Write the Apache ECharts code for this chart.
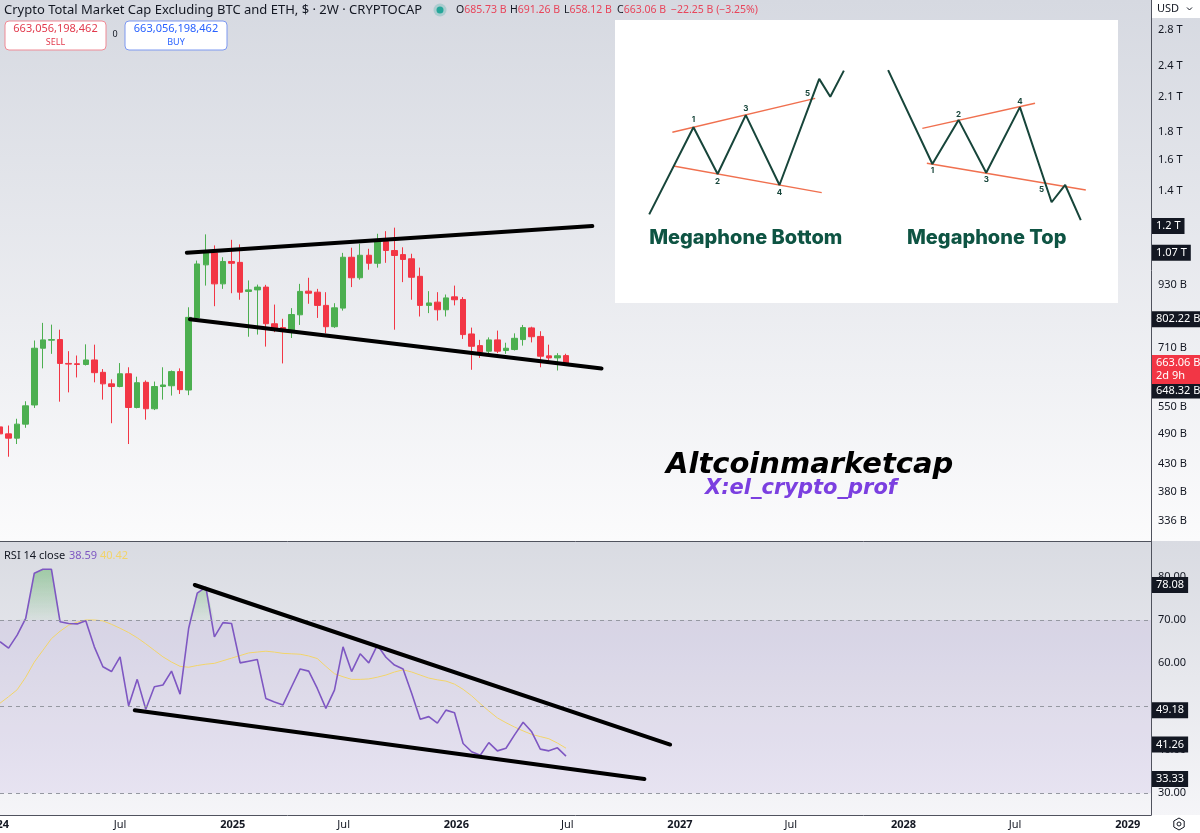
<!DOCTYPE html>
<html>
<head>
<meta charset="utf-8">
<title>Crypto Total Market Cap Excluding BTC and ETH - 2W</title>
<script src="https://cdn.jsdelivr.net/npm/echarts@6/dist/echarts.min.js"></script>
<style>
  html, body { margin: 0; padding: 0; }
  body { width: 1200px; height: 833px; position: relative; overflow: hidden; background: #fff; }
  .bg-main { position: absolute; left: 0; top: 0; width: 1200px; height: 541px; background: linear-gradient(#d6d9e1, #fbfbfc); }
  .bg-rsi { position: absolute; left: 0; top: 541px; width: 1200px; height: 274px; background: linear-gradient(#d9dbe2, #f5f5f8); }
  #chart { position: absolute; left: 0; top: 0; width: 1200px; height: 833px; }
</style>
</head>
<body>
<div class="bg-main"></div>
<div class="bg-rsi"></div>
<div id="chart"></div>
<script>
const FONT = "'Noto Sans', sans-serif";

// 2W candles
const dates = [
  '2023-12-18', '2024-01-01', '2024-01-15', '2024-01-29', '2024-02-12', '2024-02-26', '2024-03-11', '2024-03-25',
  '2024-04-08', '2024-04-22', '2024-05-06', '2024-05-20', '2024-06-03', '2024-06-17', '2024-07-01', '2024-07-15',
  '2024-07-29', '2024-08-12', '2024-08-26', '2024-09-09', '2024-09-23', '2024-10-07', '2024-10-21', '2024-11-04',
  '2024-11-18', '2024-12-02', '2024-12-16', '2024-12-30', '2025-01-13', '2025-01-27', '2025-02-10', '2025-02-24',
  '2025-03-10', '2025-03-24', '2025-04-07', '2025-04-21', '2025-05-05', '2025-05-19', '2025-06-02', '2025-06-16',
  '2025-06-30', '2025-07-14', '2025-07-28', '2025-08-11', '2025-08-25', '2025-09-08', '2025-09-22', '2025-10-06',
  '2025-10-20', '2025-11-03', '2025-11-17', '2025-12-01', '2025-12-15', '2025-12-29', '2026-01-12', '2026-01-26',
  '2026-02-09', '2026-02-23', '2026-03-09', '2026-03-23', '2026-04-06', '2026-04-20', '2026-05-04', '2026-05-18',
  '2026-06-01', '2026-06-15', '2026-06-29'
];
// values in billions USD
const opens = [
  504, 489, 480, 510, 554, 708, 733, 735, 663, 662, 660, 673, 638, 607, 600, 634,
  548, 611, 545, 600, 602, 640, 591, 807, 1015, 1069, 935, 1030, 1026, 905, 911, 922,
  787, 774, 761, 818, 906, 902, 852, 777, 842, 1049, 960, 1058, 1022, 1123, 1080, 1061,
  1042, 966, 852, 864, 836, 884, 874, 753, 716, 699, 734, 701, 704, 735, 773, 745,
  685, 679, 685.73
];
const closes = [
  489, 480, 510, 552, 708, 734, 735, 663, 661, 660, 673, 637, 607, 600, 634, 548,
  610, 545, 600, 604, 640, 592, 809, 1019, 1072, 935, 1030, 1022, 902, 911, 922, 787,
  773, 761, 819, 905, 898, 852, 777, 843, 1049, 960, 1058, 1022, 1123, 1080, 1057, 1039,
  962, 852, 861, 836, 880, 873, 751, 714, 696, 734, 699, 708, 739, 774, 744, 684,
  679, 685.31, 663.06
];
const lows = [
  483, 443, 468, 502, 547, 649, 691, 562, 585, 624, 657, 611, 567, 512, 598, 468,
  546, 520, 542, 567, 577, 581, 578, 801, 928, 849, 915, 898, 873, 744, 751, 713,
  759, 663, 740, 783, 858, 807, 755, 773, 833, 922, 952, 994, 1003, 1024, 767, 942,
  873, 812, 824, 798, 812, 852, 737, 645, 679, 693, 693, 691, 701, 716, 726, 652,
  663, 643, 658.12
];
const highs = [
  509, 507, 522, 563, 732, 790, 784, 767, 699, 686, 720, 719, 647, 619, 664, 652,
  626, 616, 613, 652, 643, 649, 845, 1034, 1158, 1104, 1049, 1131, 1109, 949, 932, 931,
  855, 804, 842, 935, 960, 915, 902, 860, 1069, 1093, 1112, 1088, 1161, 1174, 1192, 1095,
  1065, 1003, 906, 902, 893, 928, 883, 774, 734, 742, 764, 725, 755, 783, 777, 762,
  719, 693, 691.26
];

// RSI 14 and its moving average
const rsi = [
  65.0, 63.5, 66.5, 70.4, 80.8, 81.7, 81.7, 69.6, 69.2, 69.1, 69.8, 63.8, 59.2, 58.1, 61.5, 50.2,
  56.3, 49.4, 54.6, 55.0, 58.2, 52.9, 68.1, 76.2, 77.6, 66.1, 69.4, 69.2, 60.1, 60.5, 60.9, 51.9,
  51.1, 50.4, 54.6, 58.7, 58.2, 54.2, 49.6, 53.8, 63.8, 58.1, 62.2, 60.1, 64.2, 61.4, 59.6, 58.7,
  53.1, 47.1, 47.7, 46.2, 49.2, 48.6, 41.5, 39.6, 38.8, 41.7, 39.8, 40.4, 43.5, 46.4, 44.2, 40.2,
  39.8, 40.5, 38.59
];
const rsiMa = [
  50.8, 52.3, 53.9, 56.8, 60.3, 63.0, 65.7, 67.4, 68.8, 69.5, 70.0, 70.0, 69.8, 69.0, 68.1, 67.1,
  65.9, 64.5, 63.0, 61.5, 60.3, 59.3, 59.1, 59.5, 59.8, 60.0, 60.6, 61.2, 61.8, 62.4, 62.6, 62.8,
  62.6, 62.3, 62.2, 62.1, 61.7, 61.1, 59.3, 57.6, 56.9, 56.3, 56.3, 56.4, 56.8, 57.3, 58.0, 58.5,
  58.0, 57.3, 56.6, 56.2, 55.9, 55.2, 54.0, 52.5, 50.7, 49.0, 47.4, 46.3, 45.3, 44.4, 43.6, 43.1,
  42.6, 41.6, 40.42
];

// drawn trend lines [date, value]
const priceUpper = [['2024-10-18', 1070], ['2026-08-11', 1200]];
const priceLower = [['2024-10-23', 802.22], ['2026-08-26', 648.32]];
const rsiUpper = [['2024-10-31', 78.08], ['2026-12-16', 41.26]];
const rsiLower = [['2024-07-25', 49.18], ['2026-11-04', 33.33]];

// axis ticks
const priceTicks = [336, 380, 430, 490, 550, 710, 930, 1400, 1600, 1800, 2100, 2400, 2800];
const rsiTicks = [30, 40, 60, 70, 80];
const rsiLevels = [30, 50, 70];
const timeTicks = ['2024-01-01', '2024-07-01', '2025-01-01', '2025-07-01', '2026-01-01', '2026-07-01',
  '2027-01-01', '2027-07-01', '2028-01-01', '2028-07-01', '2029-01-01'];
const timeTickLabels = ['2024', 'Jul', '2025', 'Jul', '2026', 'Jul', '2027', 'Jul', '2028', 'Jul', '2029'];

// megaphone illustration (units 0..100 inside the white box)
const mpBottomPath = [[6.8, 68.7], [15.6, 37.9], [20.4, 54.4], [26.0, 33.6], [32.7, 58.3], [40.6, 20.8], [42.8, 27.1], [45.5, 17.9]];
const mpBottomUpper = [[11.4, 39.7], [39.8, 27.7]];
const mpBottomLower = [[11.6, 51.6], [41.1, 61.0]];
const mpBottomNums = [[15.6, 35.3, '1'], [20.4, 57.1, '2'], [26.0, 31.2, '3'], [32.7, 60.9, '4'], [38.3, 26.1, '5']];
const mpTopPath = [[54.3, 17.7], [63.1, 50.9], [68.3, 35.3], [73.8, 54.0], [80.5, 30.8], [86.8, 64.4], [89.5, 58.3], [92.6, 70.7]];
const mpTopUpper = [[61.1, 38.3], [83.5, 29.4]];
const mpTopLower = [[62.0, 50.6], [93.6, 60.1]];
const mpTopNums = [[63.1, 53.3, '1'], [68.3, 33.6, '2'], [73.8, 56.3, '3'], [80.5, 28.9, '4'], [84.8, 59.8, '5']];
const mpTitles = [[26.0, 77.1, 'Megaphone Bottom'], [73.9, 77.1, 'Megaphone Top']];

const ts = s => new Date(s + 'T00:00:00Z').getTime();
const xMin = ts('2023-12-18');
const xMax = ts('2029-02-08');

const fmtPrice = v => v >= 1000 ? (v / 1000) + ' T' : v + ' B';

const GREEN = '#4caf50';
const RED = '#f23645';
const AXIS_LINE = '#50535e';
const CLEAR = 'rgba(0,0,0,0)';

const tagLabel = (text, bg, dy) => ({
  show: true, position: 'end', distance: 1, formatter: text,
  color: '#fff', backgroundColor: bg, padding: [2, 4, 1, 4],
  fontSize: 11, lineHeight: 13, fontFamily: FONT, offset: [0, dy || 0]
});
const tickLabel = text => ({
  show: true, position: 'end', distance: 7, formatter: text,
  color: '#131722', fontSize: 11, fontFamily: FONT
});

const trend = (pts, ax) => ({
  type: 'line', xAxisIndex: ax, yAxisIndex: ax, silent: true, z: 6,
  data: pts.map(p => [ts(p[0]), p[1]]), symbol: 'none',
  lineStyle: { color: '#000', width: 4, cap: 'round' }
});

const inset = (data, color, width) => ({
  type: 'line', xAxisIndex: 2, yAxisIndex: 2, silent: true, data: data, symbol: 'none',
  lineStyle: { color: color, width: width }, z: 3
});
const insetText = (data, size, color, weight) => ({
  type: 'scatter', xAxisIndex: 2, yAxisIndex: 2, silent: true, data: data, symbolSize: 1,
  itemStyle: { color: CLEAR, opacity: 1 }, z: 4,
  label: {
    show: true, position: 'inside', formatter: p => p.value[2], color: color, opacity: 1,
    fontSize: size, fontWeight: weight, fontFamily: "Inter, 'Noto Sans', sans-serif"
  }
});

const candleData = dates.map((d, i) => [ts(d), opens[i], closes[i], lows[i], highs[i]]);
const rsiData = dates.map((d, i) => [ts(d), rsi[i]]);
const rsiMaData = dates.map((d, i) => [ts(d), rsiMa[i]]);
const obBase = dates.map(d => [ts(d), 70]);
const obExtra = dates.map((d, i) => [ts(d), Math.max(rsi[i] - 70, 0)]);

const priceMarks = priceTicks.map(v => ({ yAxis: v, label: tickLabel(fmtPrice(v)) }))
  .concat([
    { yAxis: priceUpper[1][1], label: tagLabel('1.2 T', '#131722') },
    { yAxis: priceUpper[0][1], label: tagLabel('1.07 T', '#131722') },
    { yAxis: priceLower[0][1], label: tagLabel('802.22 B', '#131722') },
    { yAxis: priceLower[1][1], label: tagLabel('648.32 B', '#131722', 22) },
    { yAxis: closes[closes.length - 1], label: tagLabel('663.06 B\n2d 9h', RED, 6) }
  ]);

const rsiMarks = rsiLevels.map(v => ({
  yAxis: v, label: { show: false },
  lineStyle: { color: '#9598a1', type: [4, 4], width: 1 }
})).concat([rsiUpper[0][1], rsiLower[0][1], rsiUpper[1][1], rsiLower[1][1]].map(v => ({
  yAxis: v, label: tagLabel(v.toFixed(2), '#131722'), lineStyle: { color: CLEAR }
})));

// time labels under the RSI pane (first one is cut by the left edge)
const timeMarks = timeTicks.map((d, i) => ({
  xAxis: ts(d),
  lineStyle: { color: CLEAR },
  label: {
    show: true, position: 'start', distance: 4, formatter: timeTickLabels[i],
    color: '#131722', fontSize: 11, fontFamily: FONT,
    fontWeight: timeTickLabels[i] === 'Jul' ? 'normal' : 'bold',
    offset: [i === 0 ? -12 : 0, 0]
  }
}));

const chart = echarts.init(document.getElementById('chart'));

chart.setOption({
  animation: false,
  backgroundColor: 'transparent',
  textStyle: { fontFamily: FONT },
  grid: [
    { left: 0, right: 49, top: 0, height: 541, outerBoundsMode: 'none' },
    { left: 0, right: 49, top: 541, height: 274, outerBoundsMode: 'none' },
    { left: 615, top: 20, width: 503, height: 283, show: true, backgroundColor: '#ffffff', borderWidth: 0, outerBoundsMode: 'none' }
  ],
  xAxis: [
    {
      type: 'time', gridIndex: 0, min: xMin, max: xMax,
      axisLabel: { show: false }, axisTick: { show: false }, splitLine: { show: false },
      axisLine: { show: true, lineStyle: { color: AXIS_LINE, width: 1 } }
    },
    {
      type: 'time', gridIndex: 1, min: xMin, max: xMax,
      axisLabel: { show: false }, axisTick: { show: false }, splitLine: { show: false },
      axisLine: { show: true, lineStyle: { color: AXIS_LINE, width: 1 } }
    },
    { type: 'value', gridIndex: 2, min: 0, max: 100, show: false }
  ],
  yAxis: [
    {
      type: 'log', gridIndex: 0, position: 'right', min: 307.8, max: 3188, logBase: 10,
      axisLabel: { show: false }, axisTick: { show: false }, splitLine: { show: false },
      axisLine: { show: true, lineStyle: { color: AXIS_LINE, width: 1 } }
    },
    {
      type: 'value', gridIndex: 1, position: 'right', min: 25, max: 88.23,
      axisTick: { show: false }, splitLine: { show: false },
      axisLine: { show: true, lineStyle: { color: AXIS_LINE, width: 1 } },
      axisLabel: {
        customValues: rsiTicks, margin: 7, color: '#131722', fontSize: 11, fontFamily: FONT,
        formatter: v => Number(v).toFixed(2)
      }
    },
    { type: 'value', gridIndex: 2, min: 0, max: 100, inverse: true, show: false }
  ],
  series: [
    {
      type: 'candlestick', name: 'CRYPTOCAP', xAxisIndex: 0, yAxisIndex: 0,
      data: candleData, encode: { x: 0, y: [1, 2, 3, 4] },
      barWidth: 6,
      itemStyle: { color: GREEN, color0: RED, borderColor: GREEN, borderColor0: RED, borderWidth: 1 },
      markLine: {
        silent: true, symbol: ['none', 'none'], animation: false,
        lineStyle: { color: CLEAR, width: 1 },
        data: priceMarks
      }
    },
    trend(priceUpper, 0),
    trend(priceLower, 0),
    // RSI overbought fill above 70
    {
      type: 'line', xAxisIndex: 1, yAxisIndex: 1, stack: 'ob', silent: true, z: 2,
      data: obBase, symbol: 'none', lineStyle: { width: 0, color: CLEAR }
    },
    {
      type: 'line', xAxisIndex: 1, yAxisIndex: 1, stack: 'ob', silent: true, z: 2,
      data: obExtra, symbol: 'none', lineStyle: { width: 0, color: CLEAR },
      areaStyle: {
        color: new echarts.graphic.LinearGradient(0, 0, 0, 1, [
          { offset: 0, color: 'rgba(76,175,80,0.6)' },
          { offset: 1, color: 'rgba(76,175,80,0.08)' }
        ])
      }
    },
    {
      type: 'line', name: 'RSI-based MA', xAxisIndex: 1, yAxisIndex: 1, silent: true, z: 3,
      data: rsiMaData, symbol: 'none', lineStyle: { color: '#f2d46a', width: 1 },
      markLine: {
        silent: true, symbol: ['none', 'none'], animation: false,
        data: timeMarks
      }
    },
    {
      type: 'line', name: 'RSI', xAxisIndex: 1, yAxisIndex: 1, silent: true, z: 4,
      data: rsiData, symbol: 'none', lineStyle: { color: '#7e57c2', width: 1.6 },
      markArea: {
        silent: true, itemStyle: { color: 'rgba(126,87,194,0.1)' },
        data: [[{ yAxis: 30 }, { yAxis: 70 }]]
      },
      markLine: {
        silent: true, symbol: ['none', 'none'], animation: false,
        data: rsiMarks
      }
    },
    trend(rsiUpper, 1),
    trend(rsiLower, 1),
    // megaphone inset
    inset(mpBottomUpper, '#f0704f', 1.5),
    inset(mpBottomLower, '#f0704f', 1.5),
    inset(mpTopUpper, '#f0704f', 1.5),
    inset(mpTopLower, '#f0704f', 1.5),
    inset(mpBottomPath, '#17453a', 2),
    inset(mpTopPath, '#17453a', 2),
    insetText(mpBottomNums, 8, '#17453a', 'bold'),
    insetText(mpTopNums, 8, '#17453a', 'bold'),
    insetText(mpTitles, 20, '#0e5443', 800)
  ],
  graphic: [
    // header
    { type: 'text', x: 4, y: 10, z: 100, style: { text: 'Crypto Total Market Cap Excluding BTC and ETH, $ · 2W · CRYPTOCAP', fill: '#131722', font: '13px ' + FONT, verticalAlign: 'middle' } },
    { type: 'circle', z: 100, shape: { cx: 440, cy: 10, r: 6.5 }, style: { fill: 'rgba(38,166,154,0.25)' } },
    { type: 'circle', z: 100, shape: { cx: 440, cy: 10, r: 3.5 }, style: { fill: '#26a69a' } },
    ...[['O', '685.73 B', 456], ['H', '691.26 B', 510], ['L', '658.12 B', 564], ['C', '663.06 B', 617], ['', '−22.25 B (−3.25%)', 671]].map(g => ({
      type: 'text', x: g[2], y: 10, z: 100,
      style: {
        text: '{k|' + g[0] + '}{v|' + g[1] + '}', verticalAlign: 'middle', font: '10.5px ' + FONT,
        rich: { k: { fill: '#131722', font: '10.5px ' + FONT }, v: { fill: '#e8455b', font: '10.5px ' + FONT } }
      }
    })),
    // sell / buy widgets
    { type: 'rect', z: 100, shape: { x: 5, y: 21, width: 101, height: 29, r: 4 }, style: { fill: '#fff', stroke: '#ef8a95', lineWidth: 1 } },
    { type: 'text', z: 101, x: 55.5, y: 29, style: { text: '663,056,198,462', fill: '#e23a4d', font: '11px ' + FONT, align: 'center', verticalAlign: 'middle' } },
    { type: 'text', z: 101, x: 55.5, y: 42, style: { text: 'SELL', fill: '#e23a4d', font: '9px ' + FONT, align: 'center', verticalAlign: 'middle' } },
    { type: 'text', z: 101, x: 115, y: 34, style: { text: '0', fill: '#131722', font: '9px ' + FONT, align: 'center', verticalAlign: 'middle' } },
    { type: 'rect', z: 100, shape: { x: 125, y: 21, width: 102, height: 29, r: 4 }, style: { fill: '#fff', stroke: '#7d98f0', lineWidth: 1 } },
    { type: 'text', z: 101, x: 176, y: 29, style: { text: '663,056,198,462', fill: '#2962ff', font: '11px ' + FONT, align: 'center', verticalAlign: 'middle' } },
    { type: 'text', z: 101, x: 176, y: 42, style: { text: 'BUY', fill: '#2962ff', font: '9px ' + FONT, align: 'center', verticalAlign: 'middle' } },
    // price scale currency
    { type: 'rect', z: 100, shape: { x: 1152, y: 0, width: 48, height: 18 }, style: { fill: '#ffffff' } },
    { type: 'text', z: 101, x: 1157, y: 9, style: { text: 'USD', fill: '#131722', font: '11px ' + FONT, verticalAlign: 'middle' } },
    { type: 'polyline', z: 101, shape: { points: [[1187, 7.5], [1189.5, 10], [1192, 7.5]] }, style: { stroke: '#131722', lineWidth: 1, fill: null } },
    // RSI legend
    { type: 'text', x: 4, y: 556, z: 100, style: { text: 'RSI 14 close', fill: '#131722', font: '11px ' + FONT, verticalAlign: 'middle' } },
    { type: 'text', x: 69, y: 556, z: 100, style: { text: '38.59', fill: '#7e57c2', font: '11px ' + FONT, verticalAlign: 'middle' } },
    { type: 'text', x: 100, y: 556, z: 100, style: { text: '40.42', fill: '#f2d46a', font: '11px ' + FONT, verticalAlign: 'middle' } },
    // watermark
    { type: 'text', x: 666, y: 465, z: 100, style: { text: 'Altcoinmarketcap', fill: '#000', font: 'italic bold 29px "DejaVu Sans", sans-serif', verticalAlign: 'middle' } },
    { type: 'text', x: 705, y: 489, z: 100, style: { text: 'X:el_crypto_prof', fill: '#7b3fe0', font: 'italic bold 21px "DejaVu Sans", sans-serif', verticalAlign: 'middle' } },
    // settings icon
    { type: 'polygon', z: 100, shape: { points: [[1179, 818], [1184.2, 821], [1184.2, 827], [1179, 830], [1173.8, 827], [1173.8, 821]] }, style: { stroke: '#131722', fill: null, lineWidth: 1 } },
    { type: 'circle', z: 100, shape: { cx: 1179, cy: 824, r: 2 }, style: { stroke: '#131722', fill: null, lineWidth: 1 } }
  ]
});
</script>
</body>
</html>
